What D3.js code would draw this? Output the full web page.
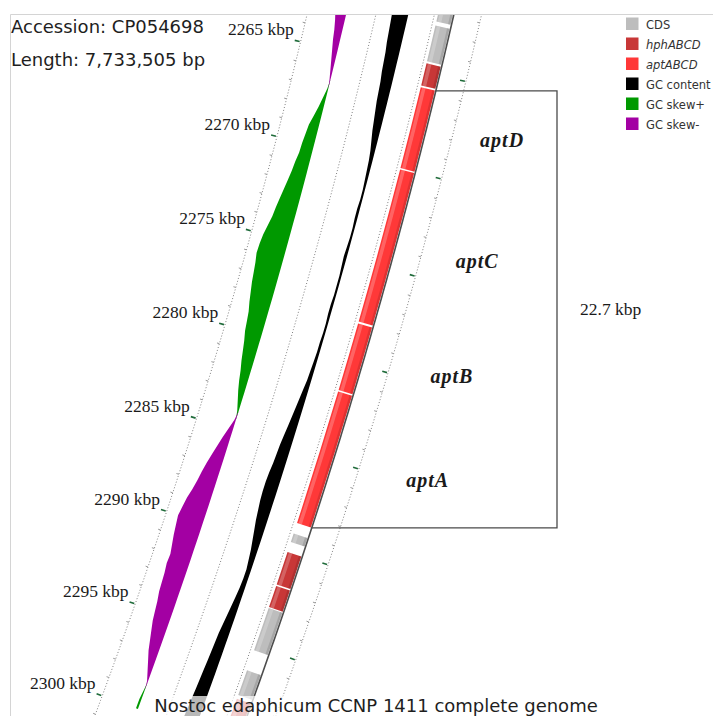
<!DOCTYPE html>
<html>
<head>
<meta charset="utf-8">
<script src="https://cdn.jsdelivr.net/npm/d3@7"></script>
<style>
  body { margin: 0; background: #fff; }
  svg { display: block; }
</style>
</head>
<body>
<script>
const W = 713, H = 716;

// ---- data ----
const accession = "CP054698";
const genomeLength = "7,733,505";
const title = "Nostoc edaphicum CCNP 1411 complete genome";

const tickKbp = [2265, 2270, 2275, 2280, 2285, 2290, 2295, 2300];
const minorKbp = [2261, 2262, 2263, 2264, 2266, 2267, 2268, 2269, 2271, 2272, 2273, 2274,
                  2276, 2277, 2278, 2279, 2281, 2282, 2283, 2284, 2286, 2287, 2288, 2289,
                  2291, 2292, 2293, 2294, 2296, 2297, 2298, 2299, 2301, 2302];

const legendLabels = ["CDS", "hphABCD", "aptABCD", "GC content", "GC skew+", "GC skew-"];
const legendItalic = [false, true, true, false, false, false];
const legendColors = ["#bdbdbd", "#c83737", "#ff3838", "#000000", "#009900", "#a300a3"];

// CDS features (kbp)
const cdsStart = [2258.0, 2262.63, 2264.57, 2265.8, 2270.05, 2278.05, 2281.6, 2289.05, 2290.03, 2291.82, 2292.99, 2296.29, 2297.8];
const cdsEnd   = [2262.42, 2264.47, 2265.71, 2269.98, 2277.95, 2281.52, 2288.5, 2289.5, 2291.74, 2292.94, 2295.23, 2297.6, 2301.0];
const cdsType  = ["CDS", "CDS", "hph", "apt", "apt", "apt", "apt", "CDS", "hph", "hph", "CDS", "CDS", "hph"];

const geneNames = ["aptD", "aptC", "aptB", "aptA"];
const geneStart = [2265.8, 2270.05, 2278.05, 2281.6];
const geneEnd   = [2269.98, 2277.95, 2281.52, 2288.5];
const clusterLabel = "22.7 kbp";

// GC content deviation from genome average (%), sampled every 0.5 kbp from 2262 kbp
const gcStart = 2262, gcStep = 0.5;
const gcDev = [-8.0, -7.75, -7.5, -7.25, -7.0, -6.5, -6.25, -6.0, -5.5, -5.25,
               -5.0, -4.5, -4.0, -3.5, -2.75, -2.0, -1.5, -1.25, -1.0, -0.75,
               -0.75, -1.0, -1.0, -0.75, -0.75, -1.0, -1.25, -1.0, -0.75, -0.75,
               -0.75, -1.0, -1.0, -0.75, -0.75, -1.0, -1.0, -1.25, -1.5, -1.75,
               -2.25, -2.75, -3.25, -3.75, -4.25, -4.75, -5.25, -5.5, -5.75, -6.25,
               -6.5, -6.5, -6.25, -5.75, -5.25, -4.5, -3.75, -3.0, -2.5, -2.0,
               -2.0, -2.25, -2.75, -3.25, -3.75, -4.25, -4.75, -5.0, -5.25, -5.5,
               -5.75, -6.0, -6.25, -6.5, -6.75, -7.0, -7.0];

// GC skew, sampled every 0.5 kbp from 2262 kbp
const skewStart = 2262, skewStep = 0.5;
const skewVal = [-0.12, -0.11, -0.115, -0.095, -0.08, -0.07, -0.055, -0.04, -0.025, -0.01,
                 0.01, 0.03, 0.05, 0.075, 0.10, 0.11, 0.12, 0.125, 0.14, 0.15,
                 0.165, 0.18, 0.195, 0.21, 0.22, 0.24, 0.26, 0.27, 0.275, 0.26,
                 0.25, 0.24, 0.225, 0.21, 0.19, 0.18, 0.17, 0.15, 0.135, 0.12,
                 0.10, 0.085, 0.065, 0.04, 0.015, -0.015, -0.045, -0.075, -0.10, -0.125,
                 -0.15, -0.17, -0.185, -0.205, -0.23, -0.245, -0.26, -0.25, -0.24, -0.225,
                 -0.21, -0.215, -0.205, -0.20, -0.195, -0.18, -0.17, -0.16, -0.14, -0.12,
                 -0.10, -0.07, -0.04, -0.01, 0.01, 0.02, 0.02];

// ---- geometry: a small piece of a very large circular map ----
const cx = -5394, cy = -1328, R0 = 6000;
const angle = d3.scaleLinear()
  .domain([2265, 2300])
  .range([0.23606 + Math.PI / 2, 0.23606 + 35 * 0.003336 + Math.PI / 2]);

const rRulerIn = R0 - 143, rSkew = R0 - 105, rMid = R0 - 76, rGC = R0 - 45;
const rCdsIn = R0 - 19, rFeatIn = R0 - 15.5, rFeatOut = R0 - 1, rRulerOut = R0 + 27;

const gcScale = d3.scaleLinear().domain([0, 8]).range([0, 16]);
const skewScale = d3.scaleLinear().domain([0, 0.3]).range([0, 30]);

const pt = (b, r) => [cx + r * Math.sin(angle(b)), cy - r * Math.cos(angle(b))];

const typeColor = { CDS: legendColors[0], hph: legendColors[1], apt: legendColors[2] };

const svg = d3.select("body").append("svg")
  .attr("width", W)
  .attr("height", H);

svg.append("defs").append("clipPath").attr("id", "view")
  .append("rect").attr("x", 10).attr("y", 14).attr("width", W - 10).attr("height", H - 14);

const view = svg.append("g").attr("clip-path", "url(#view)");
const map = view.append("g").attr("transform", `translate(${cx},${cy})`);

// dotted guide circles
const arcSpan = d3.range(2256, 2306, 0.25);
const ring = r => d3.lineRadial().angle(b => angle(b)).radius(r)(arcSpan);
[rRulerIn, rMid, rCdsIn, rRulerOut].forEach(r => {
  map.append("path")
    .attr("d", ring(r))
    .attr("fill", "none")
    .attr("stroke", "#808080")
    .attr("stroke-width", 1)
    .attr("stroke-dasharray", "1,2");
});

// GC skew
const skewData = skewVal.map((v, i) => ({ b: skewStart + i * skewStep, v }));
const skewArea = sign => d3.areaRadial()
  .angle(d => angle(d.b))
  .outerRadius(rSkew)
  .innerRadius(d => rSkew - skewScale(Math.max(0, sign * d.v)));
map.append("path").attr("d", skewArea(1)(skewData)).attr("fill", legendColors[4]);
map.append("path").attr("d", skewArea(-1)(skewData)).attr("fill", legendColors[5]);

// GC content
const gcData = gcDev.map((v, i) => ({ b: gcStart + i * gcStep, v }));
map.append("path")
  .attr("d", d3.areaRadial()
    .angle(d => angle(d.b))
    .outerRadius(rGC + 0.6)
    .innerRadius(d => rGC - gcScale(-d.v))(gcData))
  .attr("fill", "#000");

// CDS features
const arc = d3.arc();
const feats = cdsStart.map((s, i) => ({ s, e: cdsEnd[i], t: cdsType[i] }));
const fg = map.append("g");
feats.forEach(f => {
  const a0 = angle(f.s), a1 = angle(f.e);
  fg.append("path")
    .attr("d", arc({ innerRadius: rFeatIn, outerRadius: rFeatOut, startAngle: a0, endAngle: a1 }))
    .attr("fill", typeColor[f.t]);
  fg.append("path")
    .attr("d", arc({ innerRadius: rFeatIn + 1.5, outerRadius: rFeatIn + 5, startAngle: a0, endAngle: a1 }))
    .attr("fill", "#fff").attr("opacity", 0.22);
  fg.append("path")
    .attr("d", arc({ innerRadius: rFeatOut - 2.5, outerRadius: rFeatOut, startAngle: a0, endAngle: a1 }))
    .attr("fill", "#000").attr("opacity", 0.12);
});

// backbone
map.append("path")
  .attr("d", ring(R0))
  .attr("fill", "none")
  .attr("stroke", "#4d4d4d")
  .attr("stroke-width", 1.6);

// ruler ticks
const tickLine = (b, r1, r2) => {
  const p1 = pt(b, r1), p2 = pt(b, r2);
  return `M${p1[0]},${p1[1]}L${p2[0]},${p2[1]}`;
};
[rRulerIn, rRulerOut].forEach(r => {
  view.selectAll(null).data(minorKbp).join("path")
    .attr("d", b => tickLine(b, r, r - 2.5))
    .attr("stroke", "#9a9a9a").attr("stroke-width", 1);
  view.selectAll(null).data(tickKbp).join("path")
    .attr("d", b => tickLine(b, r - 1, r - 6))
    .attr("stroke", "#1f6b3a").attr("stroke-width", 1.6);
});

view.selectAll(null).data(tickKbp).join("text")
  .attr("x", b => pt(b, rRulerIn - 6)[0] - 1)
  .attr("y", b => pt(b, rRulerIn - 6)[1] - 5)
  .attr("text-anchor", "end")
  .attr("font-family", "'Liberation Serif', 'Times New Roman', serif")
  .attr("font-size", 17.5)
  .attr("fill", "#1a1a1a")
  .text(b => `${b} kbp`);

// cluster box
const pTop = pt(geneStart[0], R0), pBot = pt(geneEnd[geneEnd.length - 1], R0);
const boxX = 557;
view.append("path")
  .attr("d", `M${pTop[0]},${pTop[1]}H${boxX}V${pBot[1]}L${pBot[0]},${pBot[1]}`)
  .attr("fill", "none")
  .attr("stroke", "#4a4a4a")
  .attr("stroke-width", 1.3);

view.selectAll(null).data(geneNames).join("text")
  .attr("x", (d, i) => pt((geneStart[i] + geneEnd[i]) / 2, R0 + 56 + 7 * i)[0])
  .attr("y", (d, i) => pt((geneStart[i] + geneEnd[i]) / 2, R0 + 56 + 7 * i)[1] + 2)
  .attr("font-family", "'Liberation Serif', 'Times New Roman', serif")
  .attr("font-style", "italic")
  .attr("font-weight", "bold")
  .attr("font-size", 20)
  .attr("letter-spacing", 1)
  .attr("fill", "#1a1a1a")
  .text(d => d);

svg.append("text")
  .attr("x", boxX + 23)
  .attr("y", (pTop[1] + pBot[1]) / 2 + 6)
  .attr("font-family", "'Liberation Serif', 'Times New Roman', serif")
  .attr("font-size", 17.5)
  .attr("fill", "#1a1a1a")
  .text(clusterLabel);

// frame
svg.append("path")
  .attr("d", `M10.5,${H}V14.5H${W}`)
  .attr("fill", "none")
  .attr("stroke", "#d4d4d4")
  .attr("stroke-width", 1);

// header text
const sans = "'DejaVu Sans', Verdana, sans-serif";
svg.append("text").attr("x", 11).attr("y", 33)
  .attr("font-family", sans).attr("font-size", 18).attr("fill", "#1e1e1e")
  .text(`Accession: ${accession}`);
svg.append("text").attr("x", 11).attr("y", 66)
  .attr("font-family", sans).attr("font-size", 18).attr("fill", "#1e1e1e")
  .text(`Length: ${genomeLength} bp`);

// legend
const leg = svg.append("g").attr("transform", "translate(626,17.5)");
const li = leg.selectAll("g").data(legendLabels).join("g")
  .attr("transform", (d, i) => `translate(0,${i * 20})`);
li.append("rect")
  .attr("width", 12.5).attr("height", 12.5)
  .attr("fill", (d, i) => legendColors[i]);
li.append("text")
  .attr("x", 20).attr("y", 11)
  .attr("font-family", sans).attr("font-size", 11.5)
  .attr("font-style", (d, i) => legendItalic[i] ? "italic" : "normal")
  .attr("fill", "#333")
  .text(d => d);

// title with faded background
svg.append("rect")
  .attr("x", 150).attr("y", 696).attr("width", 452).attr("height", 20)
  .attr("fill", "#fff").attr("opacity", 0.72);
svg.append("text")
  .attr("x", 376).attr("y", 712)
  .attr("text-anchor", "middle")
  .attr("font-family", sans).attr("font-size", 18).attr("fill", "#1e1e1e")
  .text(title);
</script>
</body>
</html>
